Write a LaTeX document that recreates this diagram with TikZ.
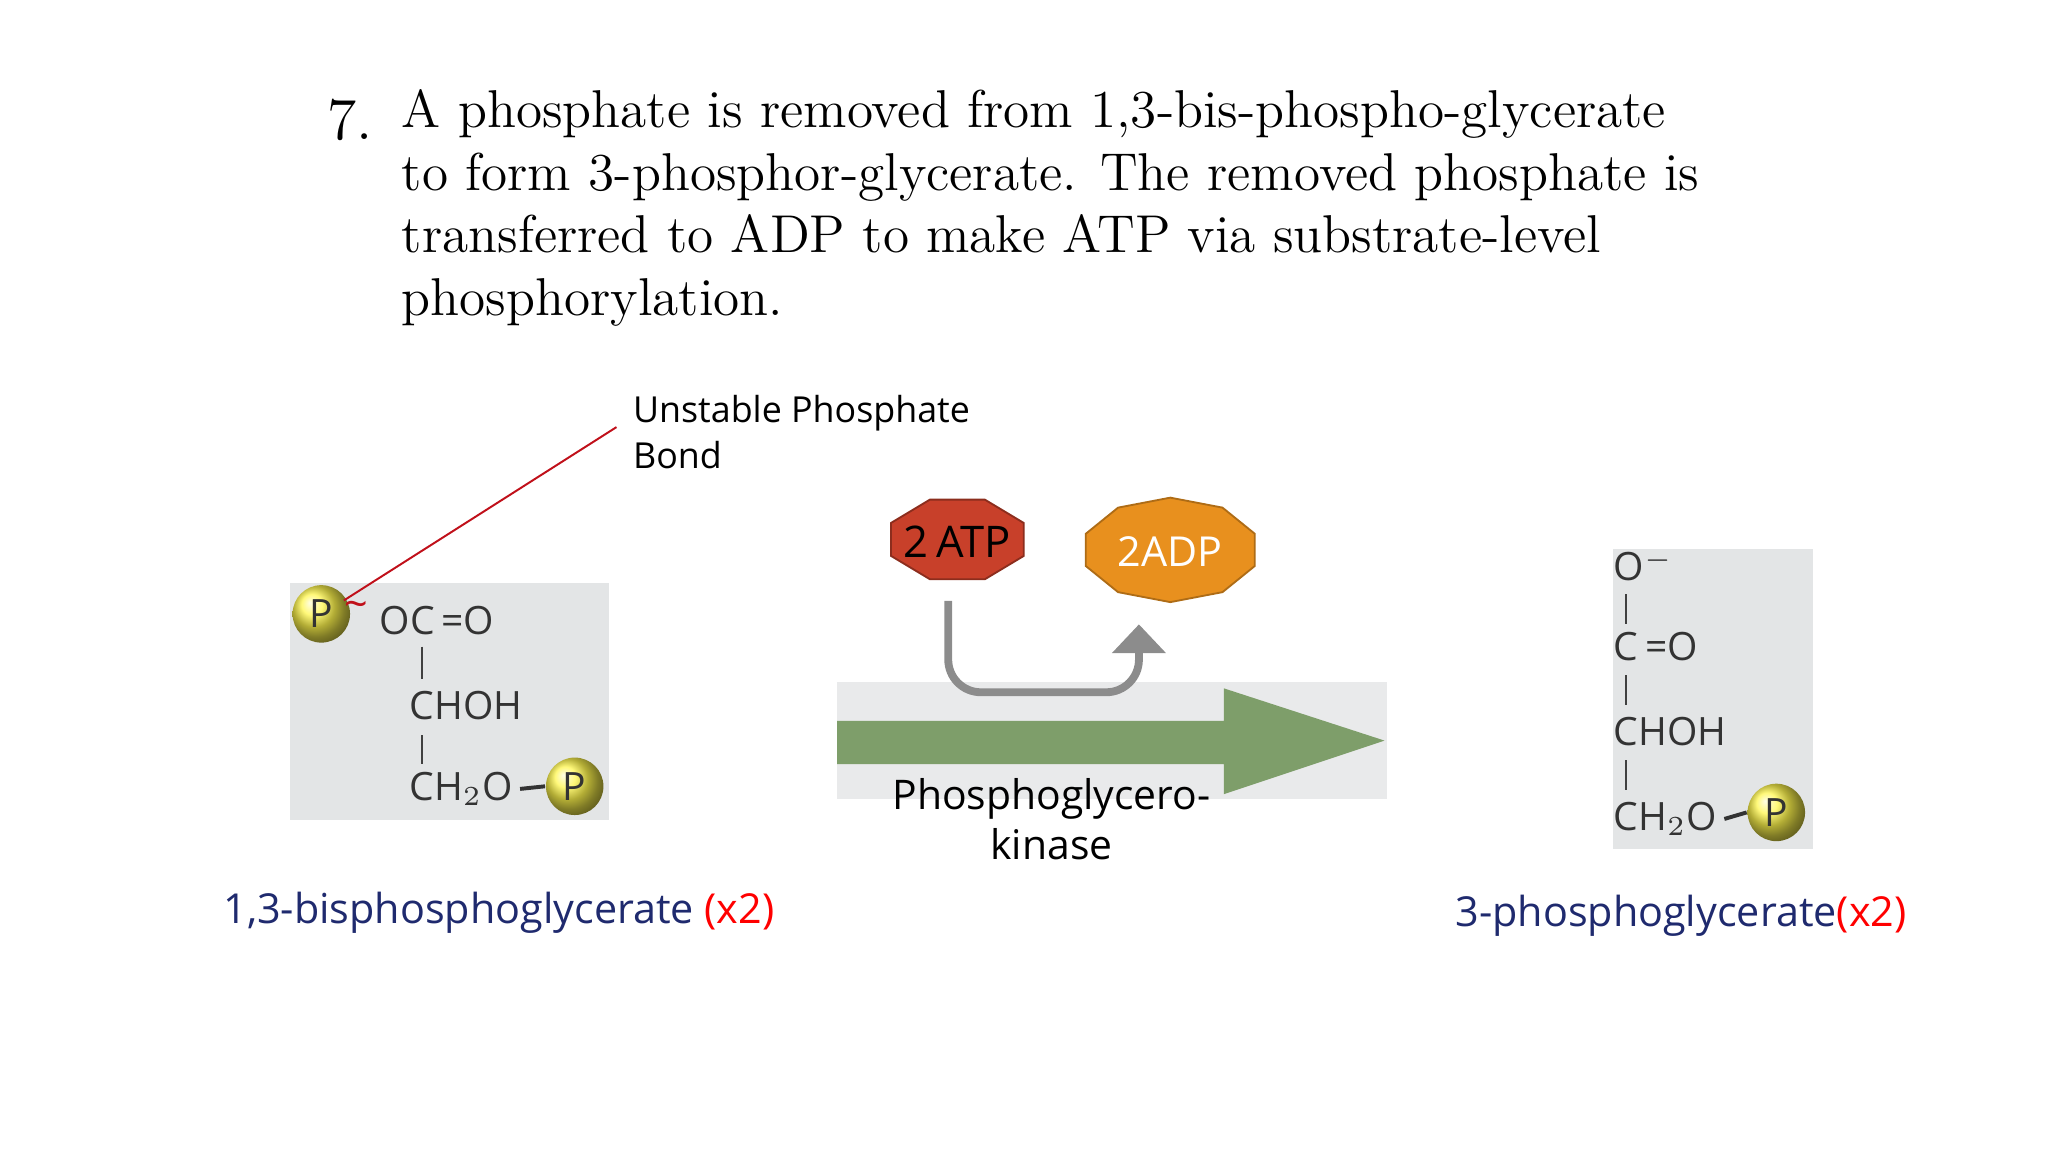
\documentclass[tikz,border=0pt]{standalone}
\usepackage{fontspec}
\setsansfont{Open Sans}
\usetikzlibrary{arrows.meta,positioning}
\definecolor{molgray}{HTML}{E3E5E6}
\definecolor{arrowgreen}{HTML}{7E9E6A}
\definecolor{atpred}{HTML}{C8402A}
\definecolor{adporange}{HTML}{E8901E}
\definecolor{labelblue}{HTML}{1F2A6E}
\definecolor{bondred}{HTML}{C0101A}
\tikzset{
  chem/.style={font=\sffamily\fontsize{8.5}{10}\selectfont, text=black!80, inner sep=0pt, anchor=west},
  pball/.style={circle, shading=ball, ball color=yellow!90!orange!70!white, minimum size=4.4mm, inner sep=0pt, font=\sffamily\fontsize{8.5}{10}\selectfont, text=black!80},
  molname/.style={font=\sffamily\fontsize{9}{11}\selectfont, text=labelblue, inner sep=0pt},
  bar/.style={black!75, line width=0.2mm}
}
\begin{document}
\begin{tikzpicture}[x=0.1mm,y=-0.1mm]
  \useasboundingbox (0,0) rectangle (1568,882);
  % heading
  \node[anchor=west, font=\fontsize{13}{16}\selectfont] (num) at (238,92) {7.};
  \node[anchor=north west, align=left, inner sep=0pt, font=\fontsize{11.6}{13.6}\selectfont] (title) at (307,68)
    {A phosphate is removed from 1,3-bis-phospho-glycerate\\
     to form 3-phosphor-glycerate. The removed phosphate is\\
     transferred to ADP to make ATP via substrate-level\\
     phosphorylation.};
  % left molecule
  \fill[molgray] (222,446) rectangle (466,628);
  \node[pball] (p1) at (246,470) {P};
  \node[chem] (oc) at (290,475) {OC\,=O};
  \node[text=bondred, inner sep=0pt, font=\sffamily\small] (tilde) at (273,467) {\textasciitilde};
  \node[chem] (choh1) at (313,540) {CHOH};
  \node[chem] (ch1) at (313,604) {CH$_2$O};
  \node[pball] (p2) at (440,602) {P};
  \draw[bar] (323,495) -- (323,520);
  \draw[bar] (323,563) -- (323,585);
  \draw[black!80, line width=0.3mm] ([xshift=0.5mm]ch1.east) -- (p2.west);
  % unstable bond label
  \node[anchor=north west, align=left, inner sep=0pt, font=\sffamily\fontsize{7.8}{10}\selectfont] (bond) at (484,302)
    {Unstable Phosphate\\Bond};
  \coordinate (bondend) at (472,327);
  \draw[bondred, line width=0.15mm] (bondend) -- (tilde.north west);
  % enzyme arrow
  \fill[molgray!80] (641,522) rectangle (1062,612);
  \fill[arrowgreen] (641,552) -- (937,552) -- (937,527) -- (1060,567) -- (937,608) -- (937,585) -- (641,585) -- cycle;
  \node[align=center, font=\sffamily\fontsize{8.9}{11}\selectfont] (enzyme) at (805,627) {Phosphoglycero-\\kinase};
  % ATP / ADP
  \fill[atpred, draw=atpred!70!black] plot[samples at={22.5,67.5,...,337.5}] ({733+55*cos(\x)},{413+33*sin(\x)}) -- cycle;
  \node[font=\sffamily\fontsize{9.5}{12}\selectfont] (atp) at (733,415) {2\,ATP};
  \fill[adporange, draw=adporange!75!black] plot[samples at={18,54,...,342}] ({896+68*cos(\x)},{421+40*sin(\x)}) -- cycle;
  \node[font=\sffamily\fontsize{9}{12}\selectfont, text=white] (adp) at (896,422) {2ADP};
  \coordinate (cstart) at (726,460);
  \coordinate (cend) at (872,478);
  \draw[black!45, line width=0.6mm, rounded corners=2.5mm, -{Triangle[width=4mm,length=2.2mm]}]
    (cstart) -- (726,530) -- (872,530) -- (cend);
  % right molecule
  \fill[molgray] (1235,420) rectangle (1388,650);
  \node[chem] (ominus) at (1235,433) {O$^-$};
  \node[chem] (co) at (1235,495) {C\,=O};
  \node[chem] (choh2) at (1235,560) {CHOH};
  \node[chem] (ch2) at (1235,627) {CH$_2$O};
  \node[pball] (p3) at (1360,622) {P};
  \draw[bar] (1245,455) -- (1245,478);
  \draw[bar] (1245,517) -- (1245,540);
  \draw[bar] (1245,582) -- (1245,605);
  \draw[black!80, line width=0.3mm] ([xshift=0.5mm]ch2.east) -- (p3.west);
  % names
  \node[molname] (left) at (382,699) {1,3-bisphosphoglycerate \textcolor{red}{(x2)}};
  \node[molname] (right) at (1287,701) {3-phosphoglycerate\textcolor{red}{(x2)}};
\end{tikzpicture}
\end{document}
